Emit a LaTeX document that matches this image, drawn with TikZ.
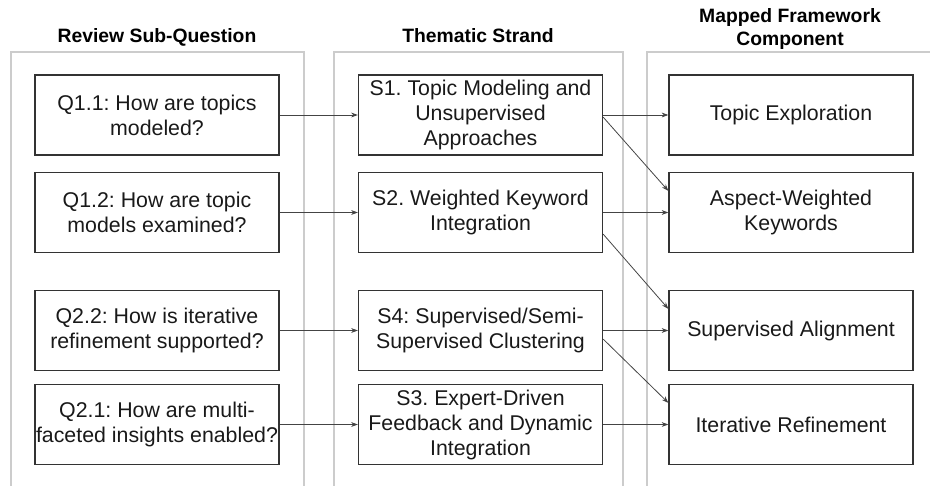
\documentclass[tikz,border=0pt]{standalone}
\usepackage{fontspec}
\setmainfont{Liberation Sans}
\usetikzlibrary{arrows.meta}
\frenchspacing
\definecolor{panelgray}{HTML}{CCCCCC}
\definecolor{boxline}{HTML}{333333}
\definecolor{linkgray}{HTML}{444444}
\tikzstyle{panel}=[draw=panelgray, line width=1.1pt]
\tikzstyle{item}=[rectangle, draw=boxline, line width=1pt, minimum width=183pt, minimum height=60pt, inner sep=0pt, align=center, text=black!90, font=\fontsize{16}{18.75}\selectfont]
\tikzstyle{heading}=[align=center, font=\fontsize{14.5}{17.3}\selectfont\bfseries]
\tikzstyle{link}=[draw=linkgray, line width=0.6pt, -{Stealth[length=5pt,width=3.6pt]}]

\begin{document}
\begin{tikzpicture}[x=0.75pt, y=-0.75pt]
	\useasboundingbox (0,0) rectangle (930,485);
	% column panels
	\draw[panel] (11,500) -- (11,52) -- (304,52) -- (304,500);
	\draw[panel] (334,500) -- (334,52) -- (623,52) -- (623,500);
	\draw[panel] (647,500) -- (647,52) -- (945,52);
	% headings
	\node[heading, anchor=base] (hq) at (157,43) {Review Sub-Question};
	\node[heading, anchor=base] (hs) at (478,43) {Thematic Strand};
	\node[heading] (hc) at (790,29) {Mapped Framework\\Component};
	% sub-questions
	\node[item] (q11) at (157,115)   {Q1.1: How are topics\\modeled?};
	\node[item] (q12) at (157,212.5) {Q1.2: How are topic\\models examined?};
	\node[item] (q22) at (157,330.5) {Q2.2: How is iterative\\refinement supported?};
	\node[item] (q21) at (157,424.5) {Q2.1: How are multi-\\faceted insights enabled?};
	% strands
	\node[item] (s1) at (480.5,115)   {S1. Topic Modeling and\\Unsupervised\\Approaches};
	\node[item] (s2) at (480.5,212.5) {S2. Weighted Keyword\\Integration};
	\node[item] (s4) at (480.5,330.5) {S4: Supervised/Semi-\\Supervised Clustering};
	\node[item] (s3) at (480.5,424.5) {S3. Expert-Driven\\Feedback and Dynamic\\Integration};
	% framework components
	\node[item] (topic) at (791,115)   {Topic Exploration};
	\node[item] (aspect) at (791,212.5) {Aspect-Weighted\\Keywords};
	\node[item] (align) at (791,330.5) {Supervised Alignment};
	\node[item] (refine) at (791,424.5) {Iterative Refinement};
	% mappings
	\draw[link] (q11) -- (s1);
	\draw[link] (q12) -- (s2);
	\draw[link] (q22) -- (s4);
	\draw[link] (q21) -- (s3);
	\draw[link] (s1) -- (topic);
	\draw[link] (s1.-1) -- (aspect.170);
	\draw[link] (s2) -- (aspect);
	\draw[link] (s2.-10) -- (align.170);
	\draw[link] (s4) -- (align);
	\draw[link] (s4.-4.5) -- (refine.170);
	\draw[link] (s3) -- (refine);
\end{tikzpicture}
\end{document}
